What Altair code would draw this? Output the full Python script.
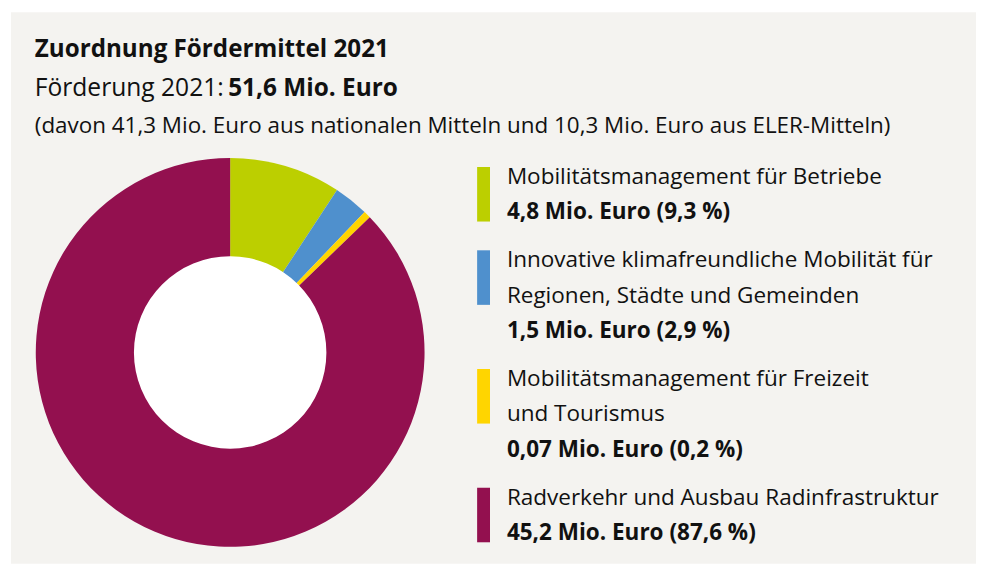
import altair as alt
import pandas as pd

# ---- data ----
categories = [
    "Mobilitätsmanagement für Betriebe",
    "Innovative klimafreundliche Mobilität für Regionen, Städte und Gemeinden",
    "Mobilitätsmanagement für Freizeit und Tourismus",
    "Radverkehr und Ausbau Radinfrastruktur",
]
amounts = [4.8, 1.5, 0.07, 45.2]          # Mio. Euro
percent = [9.3, 2.9, 0.2, 87.6]           # share in %
drawn_share = [9.3, 2.9, 0.6, 87.6]       # slice size as drawn in the picture
colors = ["#bccf00", "#4f90cd", "#ffd500", "#93104f"]
label_lines = [
    ["Mobilitätsmanagement für Betriebe"],
    ["Innovative klimafreundliche Mobilität für", "Regionen, Städte und Gemeinden"],
    ["Mobilitätsmanagement für Freizeit", "und Tourismus"],
    ["Radverkehr und Ausbau Radinfrastruktur"],
]
value_labels = ["4,8 Mio. Euro (9,3 %)", "1,5 Mio. Euro (2,9 %)",
                "0,07 Mio. Euro (0,2 %)", "45,2 Mio. Euro (87,6 %)"]

title = "Zuordnung Fördermittel 2021"
sub_normal = "Förderung 2021:"
sub_bold = "51,6 Mio. Euro"
note = "(davon 41,3 Mio. Euro aus nationalen Mitteln und 10,3 Mio. Euro aus ELER-Mitteln)"

# ---- layout ----
W, H = 973, 556
BG = "#f4f3f0"
FONT = "Open Sans"
TXT = "#111111"
CX, CY, R_OUT, R_IN = 221, 343, 196, 97
LINE_PX = 35.7
GAP_ROWS = 12.6 / LINE_PX
LEG_X = 500
BAR_X = 470

pie_df = pd.DataFrame({"cat": categories, "share": drawn_share,
                       "idx": list(range(len(categories)))})

rows = []
bars = []
L = 0
for i, lines in enumerate(label_lines):
    first = L + i * GAP_ROWS
    for t in lines:
        rows.append({"text": t, "row": L + i * GAP_ROWS, "bold": False})
        L += 1
    rows.append({"text": value_labels[i], "row": L + i * GAP_ROWS, "bold": True})
    L += 1
    top = first - 17 / LINE_PX
    bars.append({"cat": categories[i], "top": top, "bot": top + 55 / LINE_PX})
leg_df = pd.DataFrame(rows)
bar_df = pd.DataFrame(bars)
last_row = leg_df["row"].max()
yscale = alt.Scale(domain=[0, last_row], range=[173, 173 + last_row * LINE_PX])
cscale = alt.Scale(domain=categories, range=colors)

pie = alt.Chart(pie_df).mark_arc(radius=R_OUT).encode(
    theta=alt.Theta("share:Q", stack=True),
    order=alt.Order("idx:Q"),
    color=alt.Color("cat:N", scale=cscale, legend=None),
    x=alt.value(CX), y=alt.value(CY),
)
hole = alt.Chart(pie_df.head(1)).mark_arc(radius=R_IN, theta=0, theta2=6.2832, color="white").encode(
    x=alt.value(CX), y=alt.value(CY),
)

bar = alt.Chart(bar_df).mark_rect().encode(
    x=alt.value(BAR_X), x2=alt.value(BAR_X + 13),
    y=alt.Y("top:Q", scale=yscale, axis=None), y2="bot:Q",
    color=alt.Color("cat:N", scale=cscale, legend=None),
)
leg_norm = alt.Chart(leg_df).transform_filter("!datum.bold").mark_text(
    align="left", baseline="alphabetic", font=FONT, fontSize=22.7, color=TXT
).encode(x=alt.value(LEG_X), y=alt.Y("row:Q", scale=yscale, axis=None), text="text:N")
leg_bold = alt.Chart(leg_df).transform_filter("datum.bold").mark_text(
    align="left", baseline="alphabetic", font=FONT, fontSize=22.7, fontWeight="bold", color=TXT
).encode(x=alt.value(LEG_X), y=alt.Y("row:Q", scale=yscale, axis=None), text="text:N")

head_df = pd.DataFrame({"t": [title]})
t1 = alt.Chart(head_df).mark_text(align="left", baseline="alphabetic", font=FONT,
                                  fontSize=24.4, fontWeight="bold", color=TXT).encode(
    x=alt.value(24), y=alt.value(45), text=alt.value(title))
t2 = alt.Chart(head_df).mark_text(align="left", baseline="alphabetic", font=FONT,
                                  fontSize=24.8, color=TXT).encode(
    x=alt.value(24), y=alt.value(84), text=alt.value(sub_normal))
t3 = alt.Chart(head_df).mark_text(align="left", baseline="alphabetic", font=FONT,
                                  fontSize=24.6, fontWeight="bold", color=TXT).encode(
    x=alt.value(219), y=alt.value(84), text=alt.value(sub_bold))
t4 = alt.Chart(head_df).mark_text(align="left", baseline="alphabetic", font=FONT,
                                  fontSize=22.6, color=TXT).encode(
    x=alt.value(24), y=alt.value(122), text=alt.value(note))

chart = alt.layer(pie, hole, bar, leg_norm, leg_bold, t1, t2, t3, t4).properties(
    width=W, height=H,
    autosize=alt.AutoSizeParams(type="none"),
    padding={"left": 3, "top": 2, "right": 0, "bottom": 0},
    background="white",
).configure_view(fill=BG, stroke=None)

chart.save("out.html", embed_options={"renderer": "svg", "actions": False})
